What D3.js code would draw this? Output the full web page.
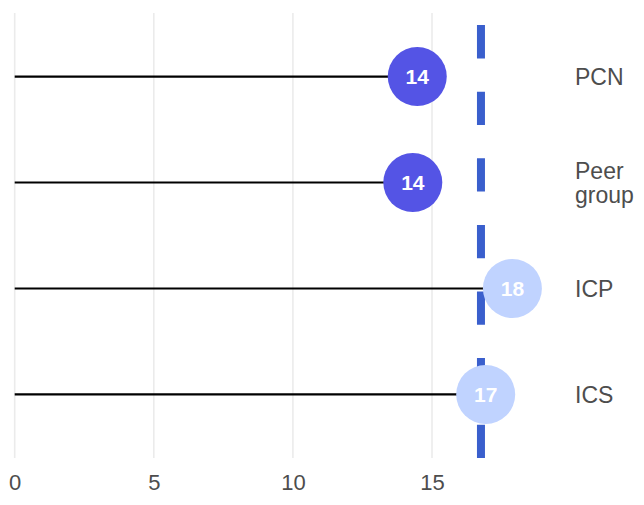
<!DOCTYPE html>
<html>
<head>
<meta charset="utf-8">
<script src="https://cdn.jsdelivr.net/npm/d3@7"></script>
<style>
  body { margin: 0; background: #fff; }
  svg { display: block; }
</style>
</head>
<body>
<svg id="chart"></svg>
<script>
var width = 644;
var height = 505;

// data
var categories = ["PCN", "Peer group", "ICP", "ICS"];
var values = [14.47, 14.31, 17.89, 16.93];
var labels = ["14", "14", "18", "17"];
var highlight = [true, true, false, false];
var target = 16.76;
var xTicks = [0, 5, 10, 15];

var plotTop = 13;
var plotBottom = 458;

var svg = d3.select("#chart")
    .attr("width", width)
    .attr("height", height);

var x = d3.scaleLinear()
    .domain([0, 19])
    .range([14.7, 14.7 + 19 * 27.82]);

var y = d3.scalePoint()
    .domain(categories)
    .range([plotTop, plotBottom])
    .padding(0.6);

// grid
svg.append("g")
    .selectAll("line")
    .data(xTicks)
    .enter().append("line")
    .attr("x1", function(d){ return x(d); })
    .attr("x2", function(d){ return x(d); })
    .attr("y1", plotTop)
    .attr("y2", plotBottom)
    .style("stroke", "#ebebeb")
    .style("stroke-width", 1.6);

// x axis labels
var xAxis = d3.axisBottom(x).tickValues(xTicks).tickSize(0).tickPadding(0);
var gx = svg.append("g")
    .attr("transform", "translate(0," + (plotBottom + 16) + ")")
    .call(xAxis);
gx.select(".domain").remove();
gx.selectAll("text")
    .attr("dy", "0.71em")
    .style("font-family", "Liberation Sans, Arial, sans-serif")
    .style("font-size", "22px")
    .style("fill", "#4d4d4d");

var rows = categories.map(function(c, i){
    return {cat: c, value: values[i], label: labels[i], hi: highlight[i]};
});

// stems
svg.append("g")
    .selectAll("line")
    .data(rows)
    .enter().append("line")
    .attr("x1", x(0))
    .attr("x2", function(d){ return x(d.value); })
    .attr("y1", function(d){ return y(d.cat); })
    .attr("y2", function(d){ return y(d.cat); })
    .style("stroke", "#000")
    .style("stroke-width", 2.2);

// target dashed line
svg.append("line")
    .attr("x1", x(target))
    .attr("x2", x(target))
    .attr("y1", plotBottom)
    .attr("y2", plotTop)
    .style("stroke", "#3a5fcd")
    .style("stroke-width", 8)
    .style("stroke-dasharray", "33.3,33.3");

// dots
var dots = svg.append("g")
    .selectAll("g")
    .data(rows)
    .enter().append("g")
    .attr("transform", function(d){ return "translate(" + x(d.value) + "," + y(d.cat) + ")"; });

dots.append("circle")
    .attr("r", 29.5)
    .style("fill", function(d){ return d.hi ? "#5454e5" : "#c0d3ff"; });

dots.append("text")
    .attr("text-anchor", "middle")
    .attr("dy", "0.36em")
    .style("font-family", "Liberation Sans, Arial, sans-serif")
    .style("font-weight", "bold")
    .style("font-size", "21px")
    .style("fill", "#fff")
    .text(function(d){ return d.label; });

// category labels on the right
var catLabels = svg.append("g")
    .selectAll("text")
    .data(rows)
    .enter().append("text")
    .attr("x", 575)
    .attr("y", function(d){ return y(d.cat); })
    .style("font-family", "Liberation Sans, Arial, sans-serif")
    .style("font-size", "23px")
    .style("fill", "#4d4d4d");

catLabels.each(function(d){
    var words = d.cat.split(" ");
    var t = d3.select(this);
    var lh = 23.5;
    var start = -(words.length - 1) * lh / 2;
    words.forEach(function(w, i){
        t.append("tspan")
            .attr("x", 575)
            .attr("dy", i === 0 ? (start + 8.5) + "px" : lh + "px")
            .text(w);
    });
});
</script>
</body>
</html>
